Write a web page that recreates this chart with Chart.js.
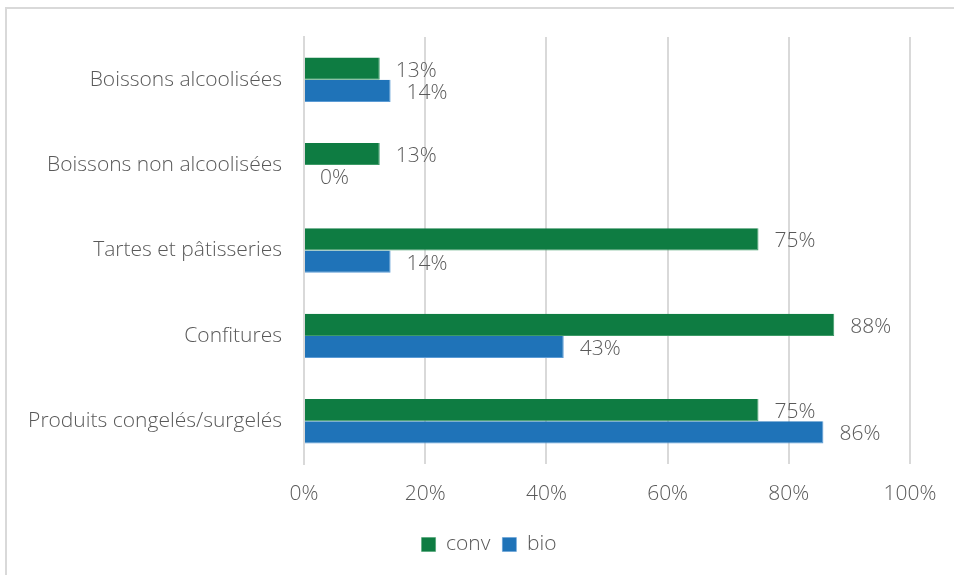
<!DOCTYPE html>
<html>
<head>
<meta charset="utf-8">
<script src="https://cdn.jsdelivr.net/npm/chart.js@4"></script>
<style>
  html, body { margin: 0; padding: 0; background: #fff; }
  #wrap { position: relative; width: 954px; height: 575px; overflow: hidden; }
  #frame { position: absolute; left: 5px; top: 7px; width: 980px; height: 600px; border: 2px solid #d9d9d9; box-sizing: border-box; }
  canvas { position: absolute; left: 0; top: 0; }
</style>
</head>
<body>
<div id="wrap">
  <div id="frame"></div>
  <canvas id="chart" width="954" height="575"></canvas>
</div>
<script>
const categories = [
  "Boissons alcoolisées",
  "Boissons non alcoolisées",
  "Tartes et pâtisseries",
  "Confitures",
  "Produits congelés/surgelés"
];
const convValues = [12.5, 12.5, 75, 87.5, 75];
const bioValues = [14.29, 0, 14.29, 42.86, 85.71];
const xTicks = [0, 20, 40, 60, 80, 100];

const textColor = "#595959";
const fontFamily = "'Open Sans', 'Noto Sans', sans-serif";

// draw value labels to the right of each bar
const barLabels = {
  id: "barLabels",
  afterDatasetsDraw(chart) {
    const ctx = chart.ctx;
    ctx.save();
    ctx.font = "300 21px " + fontFamily;
    ctx.fillStyle = textColor;
    ctx.textAlign = "left";
    ctx.textBaseline = "middle";
    chart.data.datasets.forEach((ds, i) => {
      chart.getDatasetMeta(i).data.forEach((bar, j) => {
        ctx.fillText(Math.round(ds.data[j]) + "%", bar.x + 16, bar.y + 2);
      });
    });
    ctx.restore();
  }
};

// legend is centred on the whole canvas, not just the padded box
const legendShift = {
  id: "legendShift",
  afterLayout(chart) {
    if (chart.legend) {
      chart.legend.left += 34;
      chart.legend.right += 34;
    }
  }
};

new Chart(document.getElementById("chart"), {
  type: "bar",
  data: {
    labels: categories,
    datasets: [
      {
        label: "conv",
        data: convValues,
        backgroundColor: "#0e7c42",
        borderColor: "#3d9a66",
        borderWidth: { right: 1, bottom: 1 },
        borderSkipped: "start",
        categoryPercentage: 0.52,
        barPercentage: 1
      },
      {
        label: "bio",
        data: bioValues,
        backgroundColor: "#1f73b8",
        borderColor: "#5b9bd5",
        borderWidth: { right: 1, bottom: 1 },
        borderSkipped: "start",
        categoryPercentage: 0.52,
        barPercentage: 1
      }
    ]
  },
  options: {
    indexAxis: "y",
    responsive: false,
    animation: false,
    layout: { padding: { left: 0, right: 44, top: 37, bottom: 10 } },
    scales: {
      x: {
        min: 0,
        max: 100,
        afterBuildTicks: (scale) => { scale.ticks = xTicks.map((v) => ({ value: v })); },
        afterFit: (scale) => { scale.height = 58; },
        grid: { color: "#d9d9d9", lineWidth: 2, drawTicks: false },
        border: { display: false },
        ticks: {
          padding: 17,
          color: textColor,
          font: { family: fontFamily, size: 21, weight: "300" },
          callback: (v) => v + "%"
        }
      },
      y: {
        afterFit: (scale) => { scale.width = 304; },
        grid: { display: false, drawTicks: false },
        border: { display: true, color: "#d9d9d9", width: 2 },
        ticks: {
          padding: 22,
          color: textColor,
          font: { family: fontFamily, size: 21, weight: "300" }
        }
      }
    },
    plugins: {
      legend: {
        position: "bottom",
        labels: {
          boxWidth: 14,
          boxHeight: 14,
          padding: 12,
          color: textColor,
          font: { family: fontFamily, size: 21, weight: "300" }
        }
      },
      tooltip: { enabled: false }
    }
  },
  plugins: [barLabels, legendShift]
});
</script>
</body>
</html>
